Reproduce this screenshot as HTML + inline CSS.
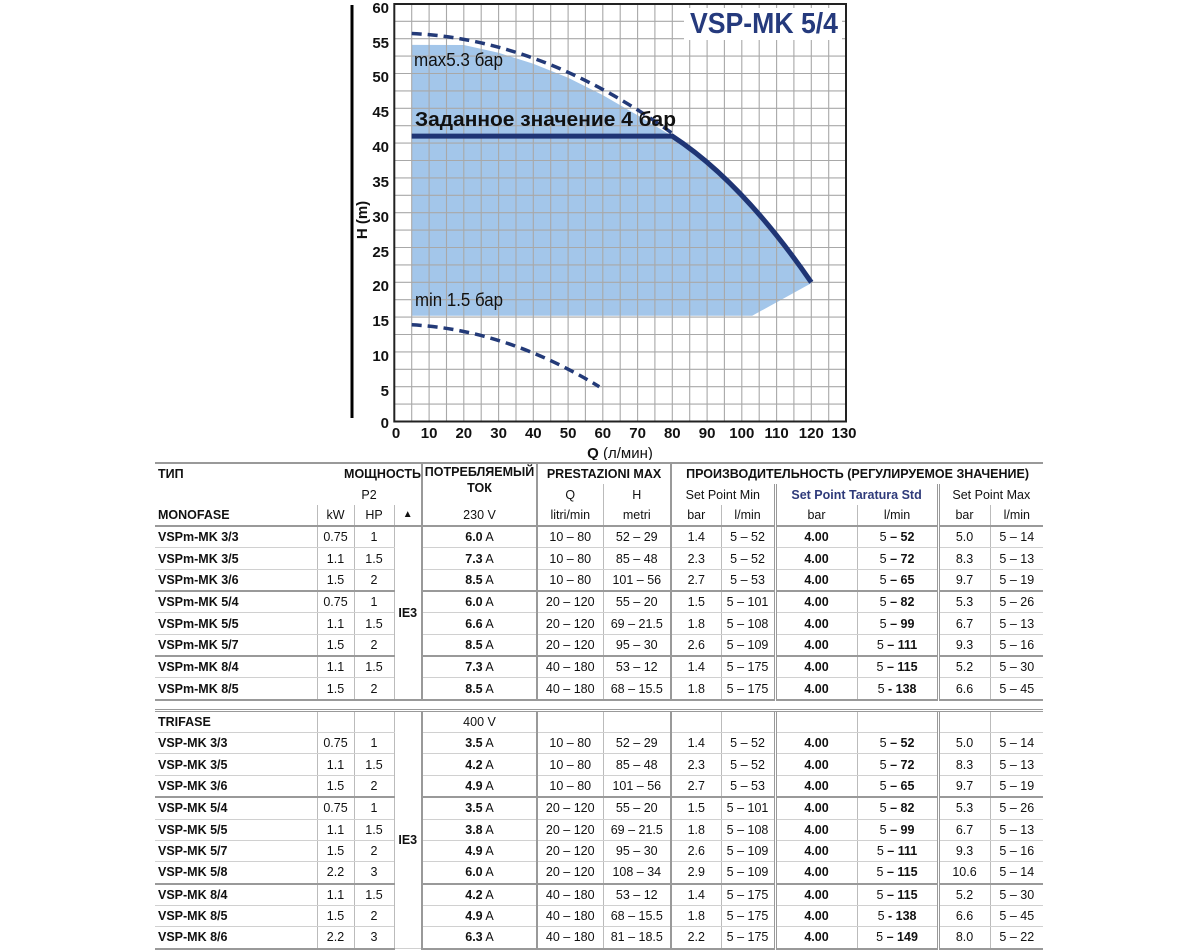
<!DOCTYPE html>
<html><head><meta charset="utf-8"><style>
body{margin:0;width:1200px;height:950px;background:#fff;overflow:hidden;font-family:"Liberation Sans",sans-serif;position:relative}
svg{position:absolute;left:0;top:0}
table{position:absolute;left:155px;top:462px;width:888px;border-collapse:collapse;table-layout:fixed;font-size:12.5px;color:#111}
td{height:20.35px;padding:0;text-align:center;border-left:1px solid #bbb;border-bottom:1px solid #d0d0d0;white-space:nowrap;overflow:hidden}
td.n{text-align:left;font-weight:bold;border-left:none;padding-left:3px}
td.a{border-left:2px solid #999}
td.d{border-left:3px double #999}
tr.g td{border-bottom:2px solid #999}
tr.h td{border-bottom:none;font-weight:normal}
tr.top td{border-top:2px solid #999}
tr.hl td{border-bottom:2px solid #999}
tr.h td.hb,td.hb{font-weight:bold}
tr.h td.n{font-weight:bold}
.sp td{height:8px;border-left:none;border-bottom:3px double #999;border-top:2px solid #999}
.ie{font-weight:bold;vertical-align:middle}
</style></head><body>
<svg width="1200" height="460" viewBox="0 0 1200 460">
<defs><clipPath id="c"><rect x="394.3" y="4" width="451.7" height="417.5"/></clipPath></defs>
<line x1="352" y1="5" x2="352" y2="418" stroke="#000" stroke-width="3"/>
<polygon clip-path="url(#c)" fill="#a3c6ea" points="411.7,44.9 463.8,45 498.6,52.8 533.3,63.8 568.1,77.7 602.8,95.1 637.6,115.3 672.3,136.1 707.05,162.2 741.8,195.3 776.6,235.3 813,282.3 752.2,315.7 411.7,315.7"/>
<g stroke="#a8a8a8" stroke-width="1.1">
<line x1="411.7" y1="4" x2="411.7" y2="421.5"/><line x1="429.1" y1="4" x2="429.1" y2="421.5"/><line x1="446.5" y1="4" x2="446.5" y2="421.5"/><line x1="463.8" y1="4" x2="463.8" y2="421.5"/><line x1="481.2" y1="4" x2="481.2" y2="421.5"/><line x1="498.6" y1="4" x2="498.6" y2="421.5"/><line x1="516" y1="4" x2="516" y2="421.5"/><line x1="533.3" y1="4" x2="533.3" y2="421.5"/><line x1="550.7" y1="4" x2="550.7" y2="421.5"/><line x1="568.1" y1="4" x2="568.1" y2="421.5"/><line x1="585.4" y1="4" x2="585.4" y2="421.5"/><line x1="602.8" y1="4" x2="602.8" y2="421.5"/><line x1="620.2" y1="4" x2="620.2" y2="421.5"/><line x1="637.6" y1="4" x2="637.6" y2="421.5"/><line x1="654.9" y1="4" x2="654.9" y2="421.5"/><line x1="672.3" y1="4" x2="672.3" y2="421.5"/><line x1="689.7" y1="4" x2="689.7" y2="421.5"/><line x1="707.1" y1="4" x2="707.1" y2="421.5"/><line x1="724.4" y1="4" x2="724.4" y2="421.5"/><line x1="741.8" y1="4" x2="741.8" y2="421.5"/><line x1="759.2" y1="4" x2="759.2" y2="421.5"/><line x1="776.6" y1="4" x2="776.6" y2="421.5"/><line x1="793.9" y1="4" x2="793.9" y2="421.5"/><line x1="811.3" y1="4" x2="811.3" y2="421.5"/><line x1="828.7" y1="4" x2="828.7" y2="421.5"/>
<line x1="394.3" y1="21.3" x2="846" y2="21.3"/><line x1="394.3" y1="38.7" x2="846" y2="38.7"/><line x1="394.3" y1="56.1" x2="846" y2="56.1"/><line x1="394.3" y1="73.5" x2="846" y2="73.5"/><line x1="394.3" y1="90.9" x2="846" y2="90.9"/><line x1="394.3" y1="108.3" x2="846" y2="108.3"/><line x1="394.3" y1="125.7" x2="846" y2="125.7"/><line x1="394.3" y1="143.1" x2="846" y2="143.1"/><line x1="394.3" y1="160.5" x2="846" y2="160.5"/><line x1="394.3" y1="177.9" x2="846" y2="177.9"/><line x1="394.3" y1="195.3" x2="846" y2="195.3"/><line x1="394.3" y1="212.7" x2="846" y2="212.7"/><line x1="394.3" y1="230.1" x2="846" y2="230.1"/><line x1="394.3" y1="247.5" x2="846" y2="247.5"/><line x1="394.3" y1="264.9" x2="846" y2="264.9"/><line x1="394.3" y1="282.3" x2="846" y2="282.3"/><line x1="394.3" y1="299.7" x2="846" y2="299.7"/><line x1="394.3" y1="317.1" x2="846" y2="317.1"/><line x1="394.3" y1="334.5" x2="846" y2="334.5"/><line x1="394.3" y1="351.9" x2="846" y2="351.9"/><line x1="394.3" y1="369.3" x2="846" y2="369.3"/><line x1="394.3" y1="386.7" x2="846" y2="386.7"/><line x1="394.3" y1="404.1" x2="846" y2="404.1"/>
</g>
<rect x="394.3" y="4" width="451.7" height="417.5" fill="none" stroke="#222" stroke-width="2"/>
<rect x="684" y="8" width="158" height="32" fill="#fff"/>
<text x="838" y="33" text-anchor="end" font-size="29" font-weight="bold" fill="#253a7d" textLength="148" lengthAdjust="spacingAndGlyphs">VSP-MK 5/4</text>
<path d="M411.7,33.5 Q542,39.4 672.3,133.4" fill="none" stroke="#233a78" stroke-width="3.5" stroke-dasharray="10,6"/>
<path d="M411.7,324.8 Q505.5,329.6 599.3,386.7" fill="none" stroke="#233a78" stroke-width="3.5" stroke-dasharray="10,6"/>
<path d="M411.7,136.1 H672.3 Q741.8,181.4 811.3,282.3" fill="none" stroke="#1f3575" stroke-width="5"/>
<text x="414" y="66" font-size="18" fill="#111" textLength="89" lengthAdjust="spacingAndGlyphs">max5.3 бар</text>
<text x="415" y="126" font-size="20" font-weight="bold" fill="#111" textLength="261" lengthAdjust="spacingAndGlyphs">Заданное значение 4 бар</text>
<text x="415" y="306" font-size="18" fill="#111" textLength="88" lengthAdjust="spacingAndGlyphs">min 1.5 бар</text>
<g font-size="15" font-weight="bold" fill="#111" text-anchor="end">
<text x="389" y="13">60</text><text x="389" y="48">55</text><text x="389" y="82">50</text><text x="389" y="117">45</text><text x="389" y="152">40</text><text x="389" y="187">35</text><text x="389" y="222">30</text><text x="389" y="257">25</text><text x="389" y="291">20</text><text x="389" y="326">15</text><text x="389" y="361">10</text><text x="389" y="396">5</text><text x="389" y="428">0</text>
</g>
<g font-size="15" font-weight="bold" fill="#111" text-anchor="middle">
<text x="396" y="438">0</text><text x="429.1" y="438">10</text><text x="463.8" y="438">20</text><text x="498.6" y="438">30</text><text x="533.3" y="438">40</text><text x="568.1" y="438">50</text><text x="602.8" y="438">60</text><text x="637.6" y="438">70</text><text x="672.3" y="438">80</text><text x="707.1" y="438">90</text><text x="741.8" y="438">100</text><text x="776.6" y="438">110</text><text x="811.3" y="438">120</text><text x="844" y="438">130</text>
</g>
<text x="620" y="458" text-anchor="middle" font-size="15" fill="#111"><tspan font-weight="bold">Q</tspan> (л/мин)</text>
<text transform="translate(367,220) rotate(-90)" text-anchor="middle" font-size="15" font-weight="bold" fill="#111">H (m)</text>
</svg>
<table>
<colgroup><col style="width:162px"><col style="width:37px"><col style="width:40px"><col style="width:28px"><col style="width:115px"><col style="width:66px"><col style="width:68px"><col style="width:50px"><col style="width:54px"><col style="width:82px"><col style="width:81px"><col style="width:52px"><col style="width:53px"></colgroup>
<tr class="h top"><td class="n">ТИП</td><td colspan="3" class="hb" style="text-align:right;border-left:none">МОЩНОСТЬ</td><td rowspan="2" class="a hb" style="vertical-align:top;line-height:16px">ПОТРЕБЛЯЕМЫЙ<br>ТОК</td><td colspan="2" class="a hb">PRESTAZIONI MAX</td><td colspan="6" class="a hb">ПРОИЗВОДИТЕЛЬНОСТЬ (РЕГУЛИРУЕМОЕ ЗНАЧЕНИЕ)</td></tr>
<tr class="h"><td class="n"></td><td colspan="3" style="border-left:none">P2</td><td class="a">Q</td><td>H</td><td colspan="2" class="a">Set Point Min</td><td colspan="2" class="d hb" style="color:#2e3a7a">Set Point Taratura Std</td><td colspan="2" class="d">Set Point Max</td></tr>
<tr class="hl"><td class="n">MONOFASE</td><td>kW</td><td>HP</td><td style="font-size:10px">▲</td><td class="a">230 V</td><td class="a">litri/min</td><td>metri</td><td class="a">bar</td><td>l/min</td><td class="d">bar</td><td>l/min</td><td class="d">bar</td><td>l/min</td></tr>
<tr><td class="n">VSPm-MK 3/3</td><td>0.75</td><td>1</td><td rowspan="8" class="ie" style="border-bottom:2px solid #999">IE3</td><td class="a"><b>6.0</b> A</td><td class="a">10 – 80</td><td>52 – 29</td><td class="a">1.4</td><td>5 – 52</td><td class="d"><b>4.00</b></td><td>5 <b>– 52</b></td><td class="d">5.0</td><td>5 – 14</td></tr>
<tr><td class="n">VSPm-MK 3/5</td><td>1.1</td><td>1.5</td><td class="a"><b>7.3</b> A</td><td class="a">10 – 80</td><td>85 – 48</td><td class="a">2.3</td><td>5 – 52</td><td class="d"><b>4.00</b></td><td>5 <b>– 72</b></td><td class="d">8.3</td><td>5 – 13</td></tr>
<tr class="g"><td class="n">VSPm-MK 3/6</td><td>1.5</td><td>2</td><td class="a"><b>8.5</b> A</td><td class="a">10 – 80</td><td>101 – 56</td><td class="a">2.7</td><td>5 – 53</td><td class="d"><b>4.00</b></td><td>5 <b>– 65</b></td><td class="d">9.7</td><td>5 – 19</td></tr>
<tr><td class="n">VSPm-MK 5/4</td><td>0.75</td><td>1</td><td class="a"><b>6.0</b> A</td><td class="a">20 – 120</td><td>55 – 20</td><td class="a">1.5</td><td>5 – 101</td><td class="d"><b>4.00</b></td><td>5 <b>– 82</b></td><td class="d">5.3</td><td>5 – 26</td></tr>
<tr><td class="n">VSPm-MK 5/5</td><td>1.1</td><td>1.5</td><td class="a"><b>6.6</b> A</td><td class="a">20 – 120</td><td>69 – 21.5</td><td class="a">1.8</td><td>5 – 108</td><td class="d"><b>4.00</b></td><td>5 <b>– 99</b></td><td class="d">6.7</td><td>5 – 13</td></tr>
<tr class="g"><td class="n">VSPm-MK 5/7</td><td>1.5</td><td>2</td><td class="a"><b>8.5</b> A</td><td class="a">20 – 120</td><td>95 – 30</td><td class="a">2.6</td><td>5 – 109</td><td class="d"><b>4.00</b></td><td>5 <b>– 111</b></td><td class="d">9.3</td><td>5 – 16</td></tr>
<tr><td class="n">VSPm-MK 8/4</td><td>1.1</td><td>1.5</td><td class="a"><b>7.3</b> A</td><td class="a">40 – 180</td><td>53 – 12</td><td class="a">1.4</td><td>5 – 175</td><td class="d"><b>4.00</b></td><td>5 <b>– 115</b></td><td class="d">5.2</td><td>5 – 30</td></tr>
<tr class="g"><td class="n">VSPm-MK 8/5</td><td>1.5</td><td>2</td><td class="a"><b>8.5</b> A</td><td class="a">40 – 180</td><td>68 – 15.5</td><td class="a">1.8</td><td>5 – 175</td><td class="d"><b>4.00</b></td><td>5 <b>- 138</b></td><td class="d">6.6</td><td>5 – 45</td></tr>
<tr class="sp"><td colspan="13"></td></tr>
<tr><td class="n">TRIFASE</td><td></td><td></td><td rowspan="11" class="ie" style="padding-top:20px">IE3</td><td class="a">400 V</td><td class="a"></td><td></td><td class="a"></td><td></td><td class="d"></td><td></td><td class="d"></td><td></td></tr>
<tr><td class="n">VSP-MK 3/3</td><td>0.75</td><td>1</td><td class="a"><b>3.5</b> A</td><td class="a">10 – 80</td><td>52 – 29</td><td class="a">1.4</td><td>5 – 52</td><td class="d"><b>4.00</b></td><td>5 <b>– 52</b></td><td class="d">5.0</td><td>5 – 14</td></tr>
<tr><td class="n">VSP-MK 3/5</td><td>1.1</td><td>1.5</td><td class="a"><b>4.2</b> A</td><td class="a">10 – 80</td><td>85 – 48</td><td class="a">2.3</td><td>5 – 52</td><td class="d"><b>4.00</b></td><td>5 <b>– 72</b></td><td class="d">8.3</td><td>5 – 13</td></tr>
<tr class="g"><td class="n">VSP-MK 3/6</td><td>1.5</td><td>2</td><td class="a"><b>4.9</b> A</td><td class="a">10 – 80</td><td>101 – 56</td><td class="a">2.7</td><td>5 – 53</td><td class="d"><b>4.00</b></td><td>5 <b>– 65</b></td><td class="d">9.7</td><td>5 – 19</td></tr>
<tr><td class="n">VSP-MK 5/4</td><td>0.75</td><td>1</td><td class="a"><b>3.5</b> A</td><td class="a">20 – 120</td><td>55 – 20</td><td class="a">1.5</td><td>5 – 101</td><td class="d"><b>4.00</b></td><td>5 <b>– 82</b></td><td class="d">5.3</td><td>5 – 26</td></tr>
<tr><td class="n">VSP-MK 5/5</td><td>1.1</td><td>1.5</td><td class="a"><b>3.8</b> A</td><td class="a">20 – 120</td><td>69 – 21.5</td><td class="a">1.8</td><td>5 – 108</td><td class="d"><b>4.00</b></td><td>5 <b>– 99</b></td><td class="d">6.7</td><td>5 – 13</td></tr>
<tr><td class="n">VSP-MK 5/7</td><td>1.5</td><td>2</td><td class="a"><b>4.9</b> A</td><td class="a">20 – 120</td><td>95 – 30</td><td class="a">2.6</td><td>5 – 109</td><td class="d"><b>4.00</b></td><td>5 <b>– 111</b></td><td class="d">9.3</td><td>5 – 16</td></tr>
<tr class="g"><td class="n">VSP-MK 5/8</td><td>2.2</td><td>3</td><td class="a"><b>6.0</b> A</td><td class="a">20 – 120</td><td>108 – 34</td><td class="a">2.9</td><td>5 – 109</td><td class="d"><b>4.00</b></td><td>5 <b>– 115</b></td><td class="d">10.6</td><td>5 – 14</td></tr>
<tr><td class="n">VSP-MK 8/4</td><td>1.1</td><td>1.5</td><td class="a"><b>4.2</b> A</td><td class="a">40 – 180</td><td>53 – 12</td><td class="a">1.4</td><td>5 – 175</td><td class="d"><b>4.00</b></td><td>5 <b>– 115</b></td><td class="d">5.2</td><td>5 – 30</td></tr>
<tr><td class="n">VSP-MK 8/5</td><td>1.5</td><td>2</td><td class="a"><b>4.9</b> A</td><td class="a">40 – 180</td><td>68 – 15.5</td><td class="a">1.8</td><td>5 – 175</td><td class="d"><b>4.00</b></td><td>5 <b>- 138</b></td><td class="d">6.6</td><td>5 – 45</td></tr>
<tr class="g"><td class="n">VSP-MK 8/6</td><td>2.2</td><td>3</td><td class="a"><b>6.3</b> A</td><td class="a">40 – 180</td><td>81 – 18.5</td><td class="a">2.2</td><td>5 – 175</td><td class="d"><b>4.00</b></td><td>5 <b>– 149</b></td><td class="d">8.0</td><td>5 – 22</td></tr>
</table>
</body></html>
